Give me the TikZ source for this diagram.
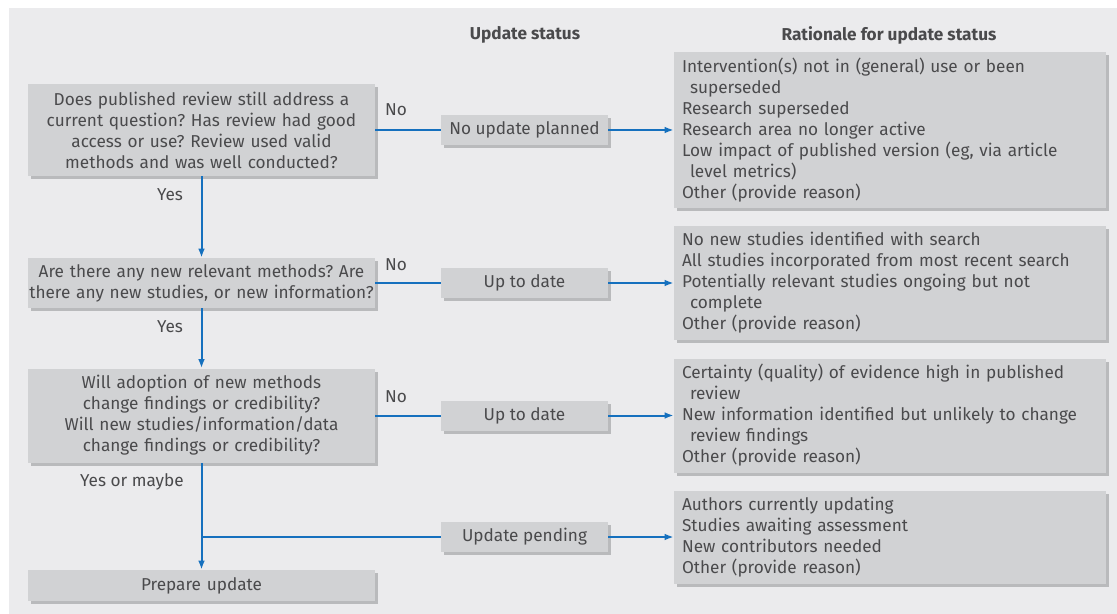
\documentclass[tikz,border=0pt]{standalone}
\usepackage{fontspec}
\setmainfont{Fira Sans}
\usetikzlibrary{arrows.meta,shadows}
\frenchspacing

\definecolor{panel}{HTML}{EBEBED}
\definecolor{boxgray}{HTML}{D1D2D4}
\definecolor{shadowgray}{HTML}{B9BABC}
\definecolor{flowblue}{HTML}{1570BE}
\definecolor{txt}{HTML}{4A4A4C}

\tikzset{
  box/.style={fill=boxgray, text=txt, inner sep=0pt,
    drop shadow={shadow xshift=1.5pt, shadow yshift=-1.5pt, fill=shadowgray, opacity=1}},
  question/.style={box, minimum width=173.5pt, text width=173.5pt, align=center},
  status/.style={box, minimum width=83.5pt, minimum height=15pt, align=center},
  reason/.style={box, minimum width=216pt, text width=208pt, inner xsep=4pt, align=left},
  lbl/.style={text=txt},
  flow/.style={flowblue, line width=1pt, -{Latex[length=4.5pt,width=3.4pt]}},
  link/.style={flowblue, line width=1pt},
}
\newcommand{\ind}{\hspace*{4pt}}

\begin{document}
\begin{tikzpicture}[x=0.5pt, y=-0.5pt, font=\fontsize{8.6}{10.5}\selectfont]
  \useasboundingbox (0,0) rectangle (1117,614);
  \fill[panel] (9,8) rectangle (1117,614);

  \node[lbl, font=\fontsize{8.6}{10.5}\selectfont\bfseries] (hstat) at (525,35) {Update status};
  \node[lbl, font=\fontsize{8.6}{10.5}\selectfont\bfseries] (hrat) at (889,35) {Rationale for update status};

  % questions
  \node[question, minimum height=46pt] (q1) at (201.5,130) {Does published review still address a\\ current question? Has review had good\\ access or use? Review used valid\\ methods and was well conducted?};
  \node[question, minimum height=25pt] (q2) at (201.5,283) {Are there any new relevant methods? Are\\ there any new studies, or new information?};
  \node[question, minimum height=47pt] (q3) at (201.5,415.5) {Will adoption of new methods\\ change findings or credibility?\\ Will new studies/information/data\\ change findings or credibility?};
  \node[question, minimum height=15.5pt] (prep) at (201.5,585.5) {Prepare update};

  % update status
  \node[status] (s1) at (524.5,130) {No update planned};
  \node[status] (s2) at (524.5,283) {Up to date};
  \node[status] (s3) at (524.5,415.5) {Up to date};
  \node[status] (s4) at (524.5,537) {Update pending};

  % rationale
  \node[reason, minimum height=78pt] (r1) at (890,130) {Intervention(s) not in (general) use or been\\ \ind superseded\\ Research superseded\\ Research area no longer active\\ Low impact of published version (eg, via article\\ \ind level metrics)\\ Other (provide reason)};
  \node[reason, minimum height=56.5pt] (r2) at (890,283) {No new studies identified with search\\ All studies incorporated from most recent search\\ Potentially relevant studies ongoing but not\\ \ind complete\\ Other (provide reason)};
  \node[reason, minimum height=57pt] (r3) at (890,415.5) {Certainty (quality) of evidence high in published\\ \ind review\\ New information identified but unlikely to change\\ \ind review findings\\ Other (provide reason)};
  \node[reason, minimum height=46.5pt] (r4) at (890,537) {Authors currently updating\\ Studies awaiting assessment\\ New contributors needed\\ Other (provide reason)};

  \coordinate (br) at (q3.south |- s4);

  \draw[link] (q1) -- (s1);
  \draw[link] (q2) -- (s2);
  \draw[link] (q3) -- (s3);
  \draw[link] (br) -- (s4);
  \draw[flow] (s1) -- (r1);
  \draw[flow] (s2) -- (r2);
  \draw[flow] (s3) -- (r3);
  \draw[flow] (s4) -- (r4);
  \draw[flow] (q1) -- (q2);
  \draw[flow] (q2) -- (q3);
  \draw[flow] (q3) -- (prep);

  \node[lbl] (no1) at (396,110) {No};
  \node[lbl] (no2) at (396,265) {No};
  \node[lbl] (no3) at (396,397) {No};
  \node[lbl] (yes1) at (170,195) {Yes};
  \node[lbl] (yes2) at (170,327) {Yes};
  \node[lbl] (yes3) at (132,482) {Yes or maybe};
\end{tikzpicture}
\end{document}
